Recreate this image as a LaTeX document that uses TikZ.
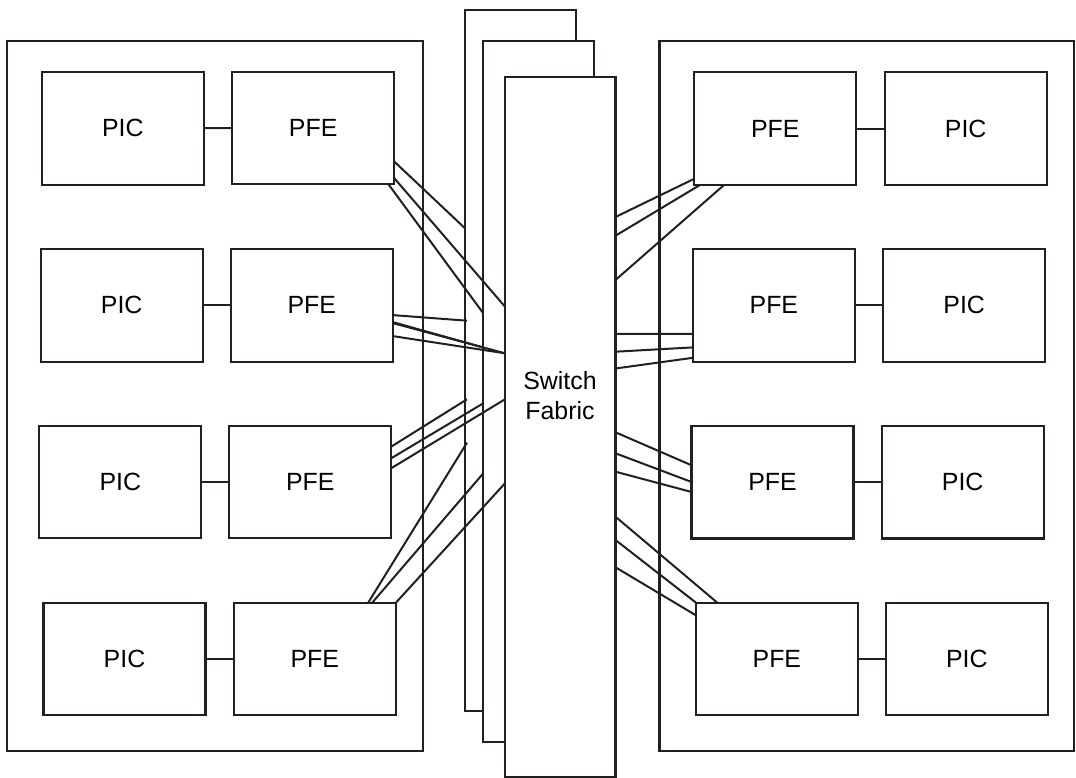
\documentclass[tikz,border=0pt]{standalone}
\usepackage{fontspec}
\setmainfont{Liberation Sans}
\usetikzlibrary{calc}
\definecolor{ink}{RGB}{35,31,32}
\tikzset{
  every picture/.style={x={(1bp,0)}, y={(0,-1bp)}},
  base/.style={draw=ink, line width=2.1bp, outer sep=0pt, inner sep=0pt},
  card/.style={base, minimum width=162bp, minimum height=112.5bp, fill=white,
    font=\fontsize{25}{30}\selectfont},
  board/.style={base, fill=white, minimum width=111bp, minimum height=700.7bp},
  chassis/.style={base, minimum height=709.7bp},
  wire/.style={draw=ink, line width=2bp},
  label/.style={font=\fontsize{25}{30}\selectfont, align=center, inner sep=0pt}
}
\begin{document}
\begin{tikzpicture}
\useasboundingbox (0,0) rectangle (1076,778);
\fill[white] (0,0) rectangle (1076,778);
% chassis
\node[chassis, minimum width=416bp] (chL) at (215.3,395.85) {};
\node[chassis, minimum width=414.3bp] (chR) at (866.65,395.85) {};
% switch fabric boards
\node[board] (sfback) at (520.5,360.35) {};
\node[board] (sfmid) at (538.8,391.35) {};
\node[board, minimum width=110.5bp, minimum height=700.3bp] (sffront) at (560.25,427.15) {};
\node[label] (sflabel) at (560,396) {Switch\\Fabric};
% left cards
\node[card] (picL1) at (122.85,128.3) {PIC};
\node[card] (pfeL1) at (313.15,128) {PFE};
\node[card] (picL2) at (121.7,305.35) {PIC};
\node[card] (pfeL2) at (311.85,305.35) {PFE};
\node[card] (picL3) at (120.3,482.15) {PIC};
\node[card] (pfeL3) at (310.3,482.15) {PFE};
\node[card] (picL4) at (124.5,659) {PIC};
\node[card] (pfeL4) at (314.85,659) {PFE};
% right cards
\node[card] (pfeR1) at (775.3,128.5) {PFE};
\node[card] (picR1) at (965.7,128.5) {PIC};
\node[card] (pfeR2) at (773.85,305.35) {PFE};
\node[card] (picR2) at (964.15,305.35) {PIC};
\node[card] (pfeR3) at (772.5,482.2) {PFE};
\node[card] (picR3) at (962.7,482.2) {PIC};
\node[card] (pfeR4) at (776.85,658.8) {PFE};
\node[card] (picR4) at (966.85,658.8) {PIC};
% PIC - PFE links
\foreach \i in {1,2,3,4} {
  \draw[wire] (picL\i) -- (pfeL\i);
  \draw[wire] (pfeR\i) -- (picR\i);
}
% left PFE to fabric
\draw[wire] ($(pfeL1.north east)+(0,89.7)$) -- ($(sfback.north west)+(0,218.3)$);
\draw[wire] ($(pfeL1.north east)+(0,106.3)$) -- ($(sffront.north west)+(0,229.7)$);
\draw[wire] ($(pfeL1.south east)+(-5.7,0)$) -- ($(sfmid.north west)+(0,272.3)$);
\draw[wire] ($(pfeL2.north east)+(0,66)$) -- ($(sfback.north west)+(2,310.7)$);
\draw[wire] ($(pfeL2.north east)+(0,73)$) -- ($(sfmid.north west)+(0,306.5)$);
\draw[wire] ($(pfeL2.north east)+(0,74)$) -- ($(sffront.north west)+(0,276.3)$);
\draw[wire] ($(pfeL2.north east)+(0,87)$) -- ($(sffront.north west)+(0,276.3)$);
\draw[wire] ($(pfeL3.north east)+(0,20.7)$) -- ($(sfback.north west)+(2,389.3)$);
\draw[wire] ($(pfeL3.north east)+(0,32.3)$) -- ($(sfmid.north west)+(0,362.3)$);
\draw[wire] ($(pfeL3.north east)+(0,42.3)$) -- ($(sffront.north west)+(0,322.3)$);
\draw[wire] ($(pfeL4.north east)+(-27.7,0)$) -- ($(sfback.north west)+(2,432.7)$);
\draw[wire] ($(pfeL4.north east)+(-23.7,0)$) -- ($(sfmid.north west)+(0,432.3)$);
\draw[wire] (pfeL4.north east) -- ($(sffront.north west)+(0,406.3)$);
% right PFE to fabric
\draw[wire] ($(pfeR1.south west)+(0,-6)$) -- ($(sffront.north east)+(0,140)$);
\draw[wire] ($(pfeR1.south west)+(6,0)$) -- ($(sffront.north east)+(0,158.7)$);
\draw[wire] ($(pfeR1.south west)+(30,0)$) -- ($(sffront.north east)+(0,203)$);
\draw[wire] ($(pfeR2.north west)+(0,84.8)$) -- ($(sffront.north east)+(0,256.8)$);
\draw[wire] ($(pfeR2.north west)+(0,98.3)$) -- ($(sffront.north east)+(0,274.7)$);
\draw[wire] ($(pfeR2.north west)+(0,108.7)$) -- ($(sffront.north east)+(0,291.5)$);
\draw[wire] ($(pfeR3.north west)+(0,39.3)$) -- ($(sffront.north east)+(0,355.3)$);
\draw[wire] ($(pfeR3.north west)+(0,56)$) -- ($(sffront.north east)+(0,376.3)$);
\draw[wire] ($(pfeR3.north west)+(0,66)$) -- ($(sffront.north east)+(0,394.7)$);
\draw[wire] ($(pfeR4.north west)+(21.3,0)$) -- ($(sffront.north east)+(0,439.7)$);
\draw[wire] (pfeR4.north west) -- ($(sffront.north east)+(0,463)$);
\draw[wire] ($(pfeR4.north west)+(0,12.7)$) -- ($(sffront.north east)+(0,490.3)$);
\end{tikzpicture}
\end{document}
